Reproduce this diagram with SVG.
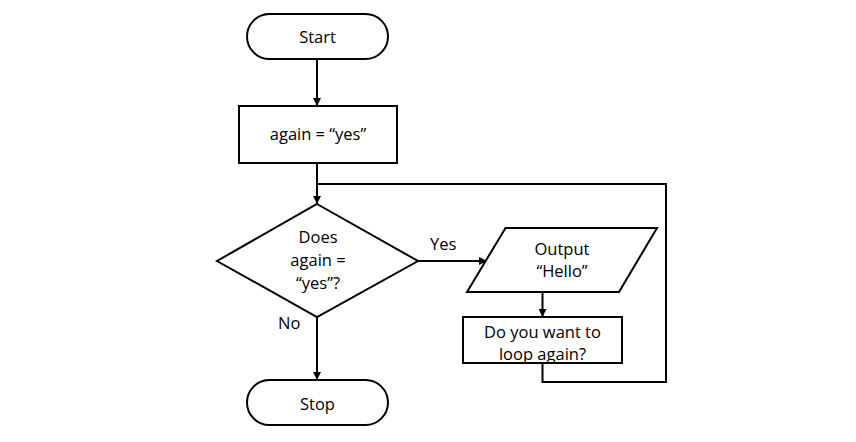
<svg xmlns="http://www.w3.org/2000/svg" width="856" height="442" viewBox="0 0 856 442">
<style>
.s{fill:#fff;stroke:#000;stroke-width:2}
.c{fill:none;stroke:#000;stroke-width:2}
text{font-family:"Open Sans","Liberation Sans",sans-serif;font-size:16.5px;fill:#000}
.m{text-anchor:middle}
</style>
<defs>
<marker id="a" viewBox="0 0 10 10" refX="10" refY="5" markerWidth="4" markerHeight="4" orient="auto" markerUnits="strokeWidth">
<path d="M0,0 L10,5 L0,10 z" fill="#000"/>
</marker>
</defs>
<rect width="856" height="442" fill="#fff"/>
<g id="connectors">
<path class="c" d="M317,59 V106" marker-end="url(#a)"/>
<path class="c" d="M317,163 V204" marker-end="url(#a)"/>
<path class="c" d="M317,317 V380" marker-end="url(#a)"/>
<path class="c" d="M418,261 H487" marker-end="url(#a)"/>
<path class="c" d="M542.5,292 V317" marker-end="url(#a)"/>
<path class="c" d="M542.5,363 V382 H666 V184 H317"/>
<text x="430" y="250">Yes</text>
<text x="278" y="329">No</text>
</g>
<g id="start">
<rect class="s" x="247" y="14" width="141" height="45" rx="22.5"/>
<text class="m" x="317.5" y="43">Start</text>
</g>
<g id="init">
<rect class="s" x="239" y="106" width="158" height="57"/>
<text class="m" x="318" y="140">again = “yes”</text>
</g>
<g id="decision">
<polygon class="s" points="317,204 418,261 317,317 217,261"/>
<text class="m" x="318" y="243">Does</text>
<text class="m" x="318" y="266">again =</text>
<text class="m" x="318" y="289">“yes”?</text>
</g>
<g id="output">
<polygon class="s" points="505.5,228 657,228 619,292 467,292"/>
<text class="m" x="562" y="255">Output</text>
<text class="m" x="562" y="277">“Hello”</text>
</g>
<g id="ask">
<rect class="s" x="463" y="317" width="159" height="46"/>
<text class="m" x="542.5" y="338">Do you want to</text>
<text class="m" x="542.5" y="360">loop again?</text>
</g>
<g id="stop">
<rect class="s" x="247" y="380" width="141" height="45" rx="22.5"/>
<text class="m" x="317.5" y="410">Stop</text>
</g>
</svg>
